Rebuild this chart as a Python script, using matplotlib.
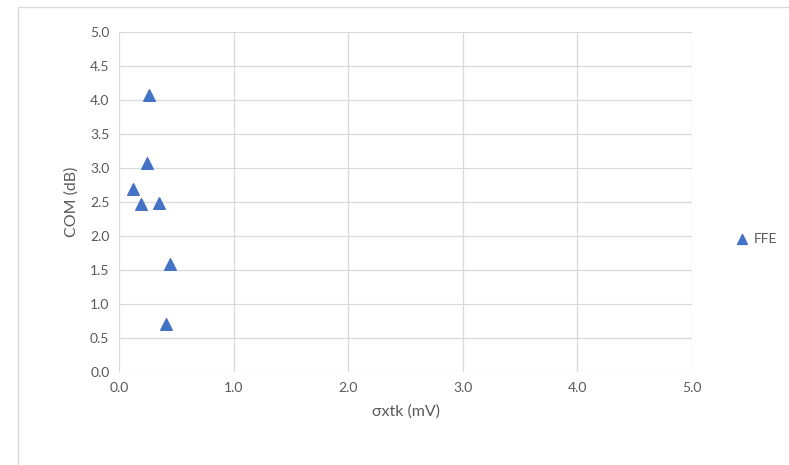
import matplotlib.pyplot as plt
from matplotlib.patches import Rectangle

plt.rcParams['font.family'] = ['Lato', 'DejaVu Sans']

# FFE points
sigma_xtk = [0.12, 0.19, 0.24, 0.26, 0.35, 0.44, 0.41]
com_db = [2.69, 2.47, 3.08, 4.08, 2.48, 1.59, 0.71]
ticks = [0.0, 1.0, 2.0, 3.0, 4.0, 5.0]
yticks = [i * 0.5 for i in range(11)]

fig = plt.figure(figsize=(7.89, 4.65), dpi=100)
ax = fig.add_axes([0.151, 0.2, 0.726, 0.731])

ax.scatter(sigma_xtk, com_db, marker='^', s=70, color='#4472C4', label='FFE', zorder=3)

ax.set_xlim(0, 5)
ax.set_ylim(0, 5)
ax.set_xticks(ticks)
ax.set_yticks(yticks)
ax.set_xticklabels([f'{t:.1f}' for t in ticks])
ax.set_yticklabels([f'{t:.1f}' for t in yticks])
ax.grid(True, color='#D9D9D9', linewidth=0.9)
ax.set_axisbelow(True)
for s in ax.spines.values():
    s.set_visible(False)
ax.tick_params(length=0, labelsize=10, labelcolor='#595959', pad=7)

ax.set_xlabel('σxtk (mV)', fontsize=11.5, color='#595959', labelpad=8)
ax.set_ylabel('COM (dB)', fontsize=11.5, color='#595959', labelpad=8)

fig.legend(loc='center left', bbox_to_anchor=(0.934, 0.487), frameon=False,
           fontsize=10, labelcolor='#595959', handlelength=0.8,
           handletextpad=0.4, markerscale=0.85, borderpad=0, borderaxespad=0)

fig.patches.append(Rectangle((0.023, -0.01), 1.1, 0.995, transform=fig.transFigure,
                             fill=False, edgecolor='#D9D9D9', linewidth=1))

fig.savefig('out.png', dpi=100)
